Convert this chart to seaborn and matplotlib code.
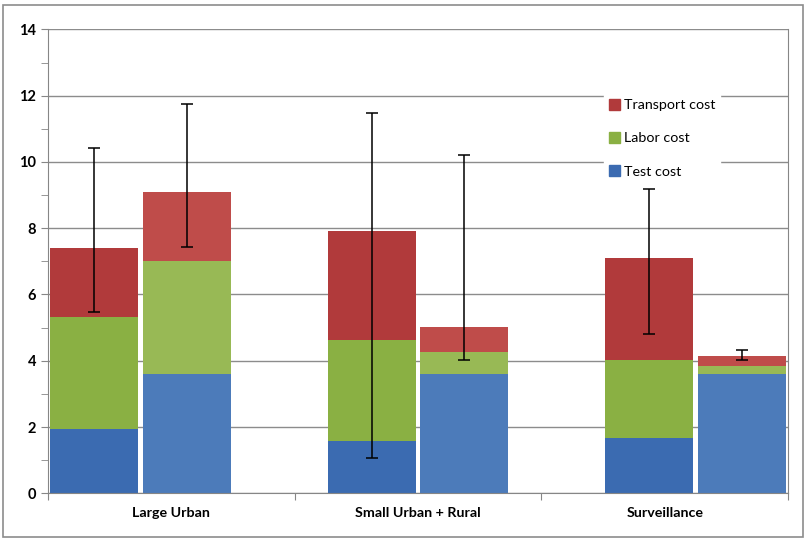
import pandas as pd
import numpy as np
import matplotlib.pyplot as plt
import seaborn as sns
from matplotlib.patches import Patch, Rectangle
from matplotlib.ticker import MultipleLocator

groups = ['Large Urban', 'Small Urban + Rural', 'Surveillance']
scenarios = ['A', 'B']

# bar order: group1 A, group1 B, group2 A, ...
test_cost = [1.94, 3.59, 1.57, 3.59, 1.67, 3.59]
labor_cost = [3.39, 3.41, 3.05, 0.68, 2.35, 0.25]
transport_cost = [2.08, 2.08, 3.29, 0.75, 3.08, 0.30]
err_low = [5.46, 7.42, 1.06, 4.01, 4.80, 4.01]
err_high = [10.42, 11.76, 11.47, 10.20, 9.18, 4.31]

df = pd.DataFrame({
    'group': np.repeat(groups, 2),
    'scenario': scenarios * 3,
    'test': test_cost,
    'labor': labor_cost,
    'transport': transport_cost,
})
df['bar'] = df['group'] + ' ' + df['scenario']
df['test_labor'] = df['test'] + df['labor']
df['total'] = df['test_labor'] + df['transport']

# the Excel chart puts bars on an 8-slot axis with one blank slot between groups
bar_order = []
for i, g in enumerate(groups):
    bar_order += [g + ' A', g + ' B']
    if i < len(groups) - 1:
        bar_order.append('spacer %d' % i)

plt.rcParams['font.family'] = ['Lato', 'DejaVu Sans']

fig = plt.figure(figsize=(8.07, 5.44), dpi=100)
ax = fig.add_axes([0.0595, 0.0932, 0.917, 0.8528])

red = ['#B13A3B', '#BF4C4A']
green = ['#8AB043', '#98B955']
blue = ['#3B6BB1', '#4C7BBA']

kw = dict(x='bar', hue='scenario', order=bar_order, hue_order=scenarios,
          dodge=False, width=0.95, errorbar=None, legend=False, ax=ax,
          linewidth=0, saturation=1)
sns.barplot(data=df, y='total', palette=red, **kw)
red_bars = [p for p in ax.patches if p.get_height() > 0]
sns.barplot(data=df, y='test_labor', palette=green, **kw)
sns.barplot(data=df, y='test', palette=blue, **kw)

# error bars at bar centers
centers = sorted(p.get_x() + p.get_width() / 2 for p in red_bars)
lo = np.array(err_low)
hi = np.array(err_high)
mid = (lo + hi) / 2
ax.errorbar(centers, mid, yerr=(hi - lo) / 2, fmt='none', ecolor='black',
            elinewidth=1.1, capsize=4, capthick=1.1, zorder=5)

n = len(bar_order)
ax.set_xlim(-0.5, n - 0.5)
ax.set_ylim(0, 14)
ax.yaxis.set_major_locator(MultipleLocator(2))
ax.yaxis.set_minor_locator(MultipleLocator(1))
step = n / len(groups)
ax.set_xticks([-0.5 + k * step for k in range(len(groups) + 1)])
ax.set_xticklabels([])
ax.set_xticks([-0.5 + (k + 0.5) * step for k in range(len(groups))], minor=True)
ax.set_xticklabels(groups, minor=True, fontweight='bold', fontsize=10.3)
ax.tick_params(axis='x', which='minor', length=0, pad=10)
ax.tick_params(axis='x', which='major', length=5, color='#868686')
ax.tick_params(axis='y', which='both', color='#868686', length=5)
for lab in ax.get_yticklabels():
    lab.set_fontweight('bold')
    lab.set_fontsize(10.5)
ax.set_xlabel('')
ax.set_ylabel('')

ax.grid(axis='y', which='major', color='#8c8c8c', linewidth=1)
ax.set_axisbelow(True)
for side in ['left', 'bottom', 'right']:
    ax.spines[side].set_color('#868686')
ax.spines['top'].set_visible(False)

handles = [Patch(color=red[0], label='Transport cost'),
           Patch(color=green[0], label='Labor cost'),
           Patch(color=blue[0], label='Test cost')]
leg = ax.legend(handles=handles, loc='upper left', bbox_to_anchor=(0.742, 0.875),
                frameon=True, fancybox=False, edgecolor='white', framealpha=1,
                labelspacing=1.45, handlelength=0.8, handleheight=0.8,
                handletextpad=0.3, fontsize=10.3, borderpad=0.3)

fig.patches.append(Rectangle((0.004, 0.013), 0.991, 0.978, transform=fig.transFigure,
                             fill=False, edgecolor='#8c8c8c', linewidth=1.2))

plt.savefig('out.png', dpi=100)
